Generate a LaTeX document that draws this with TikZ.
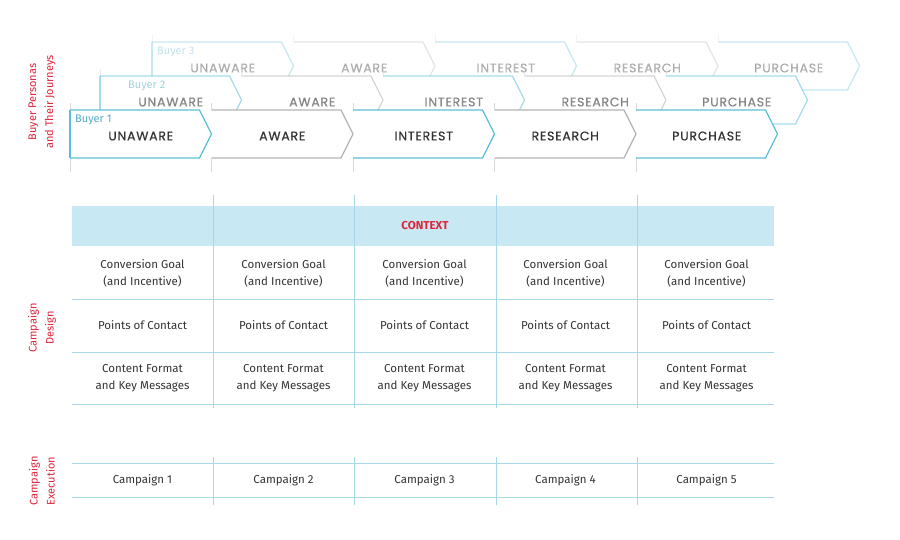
\documentclass[tikz,border=0pt]{standalone}
\usepackage{fontspec}
\setmainfont{Fira Sans}
\newfontfamily\stagefont[LetterSpace=6, FakeBold=0.6]{Poppins}
\definecolor{lineblue}{HTML}{5BBFD9}
\definecolor{linegray}{HTML}{B4B4B4}
\definecolor{gridblue}{HTML}{A6D8EA}
\definecolor{headblue}{HTML}{C8E8F3}
\definecolor{titlered}{HTML}{E0243A}
\definecolor{celltext}{HTML}{333333}

\begin{document}
\begin{tikzpicture}[
  x=1pt, y=-1pt,
  stage_edge/.style={line width=1.3pt, line join=miter},
  stage_text/.style={inner sep=0pt, font=\stagefont\fontsize{12.5}{14}\selectfont, text=celltext},
  buyer_label/.style={inner sep=0pt, anchor=west, font=\fontsize{11}{12}\selectfont, text=lineblue!90!black},
  side_label/.style={rotate=90, align=center, text=titlered, font=\fontsize{11}{17}\selectfont},
  cell_text/.style={align=center, text=celltext, font=\fontsize{11.5}{17}\selectfont},
  grid_line/.style={draw=gridblue, line width=0.9pt},
  tick_line/.style={draw=linegray!50, line width=0.6pt},
]
\useasboundingbox (0,0) rectangle (900,540);

% buyer journeys, back to front
\foreach \row/\lx/\ty/\fade/\bx in {3/152/42/0.35/5, 2/100/76/0.55/28, 1/70/110/1/5}{
  \foreach \k in {0,...,4}
    \draw[tick_line, draw opacity=\fade] (\lx+\k*141.5,\ty-7) -- (\lx+\k*141.5,\ty+62);
  \fill[white] (\lx,\ty) -- ++(5*141.5-12,0) -- ++(12,24) -- ++(-12,24) -- (\lx,\ty+48) -- cycle;
  \foreach \stage/\col [count=\k from 0] in {UNAWARE/lineblue, AWARE/linegray, INTEREST/lineblue, RESEARCH/linegray, PURCHASE/lineblue}{
    \draw[stage_edge, draw=\col, draw opacity=\fade] (\lx+\k*141.5,\ty) -- ++(129.5,0) -- ++(12,24) -- ++(-12,24) -- ++(-129.5,0);
    \node (s\row-\k) [stage_text, text opacity=\fade] at (\lx+\k*141.5+70.75,\ty+26) {\stage};
  }
  \draw[stage_edge, draw=lineblue, draw opacity=\fade] (\lx,\ty) -- (\lx,\ty+48);
  \node (b\row) [buyer_label, text opacity=\fade] at (\lx+\bx,\ty+10) {Buyer \row};
}

% side titles
\node (journeys) [side_label] at (42,102) {Buyer Personas\\and Their Journeys};
\node (design) [side_label] at (42,328) {Campaign\\Design};
\node (execution) [side_label] at (42,481) {Campaign\\Execution};

% campaign design table
\fill[headblue] (72,206) rectangle (774,246);
\foreach \y in {299,352,404}
  \draw[grid_line] (72,\y) -- (774,\y);
\foreach \x in {213,354,496,637}
  \draw[grid_line] (\x,195) -- (\x,408);
\node (context) [text=titlered, font=\bfseries\fontsize{11.5}{13}\selectfont] at (425,226) {CONTEXT};
\foreach \i in {0,...,4}{
  \node (goal\i) [cell_text] at (72+141*\i+70.5,273) {Conversion Goal\\(and Incentive)};
  \node (contact\i) [cell_text] at (72+141*\i+70.5,325) {Points of Contact};
  \node (format\i) [cell_text] at (72+141*\i+70.5,378) {Content Format\\and Key Messages};
}

% campaign execution row
\foreach \y in {463,497}
  \draw[grid_line] (72,\y) -- (774,\y);
\foreach \x in {213,354,496,637}
  \draw[grid_line] (\x,457) -- (\x,505);
\foreach \i in {1,...,5}
  \node (campaign\i) [cell_text] at (72+141*\i-70.5,480) {Campaign \i};
\end{tikzpicture}
\end{document}
